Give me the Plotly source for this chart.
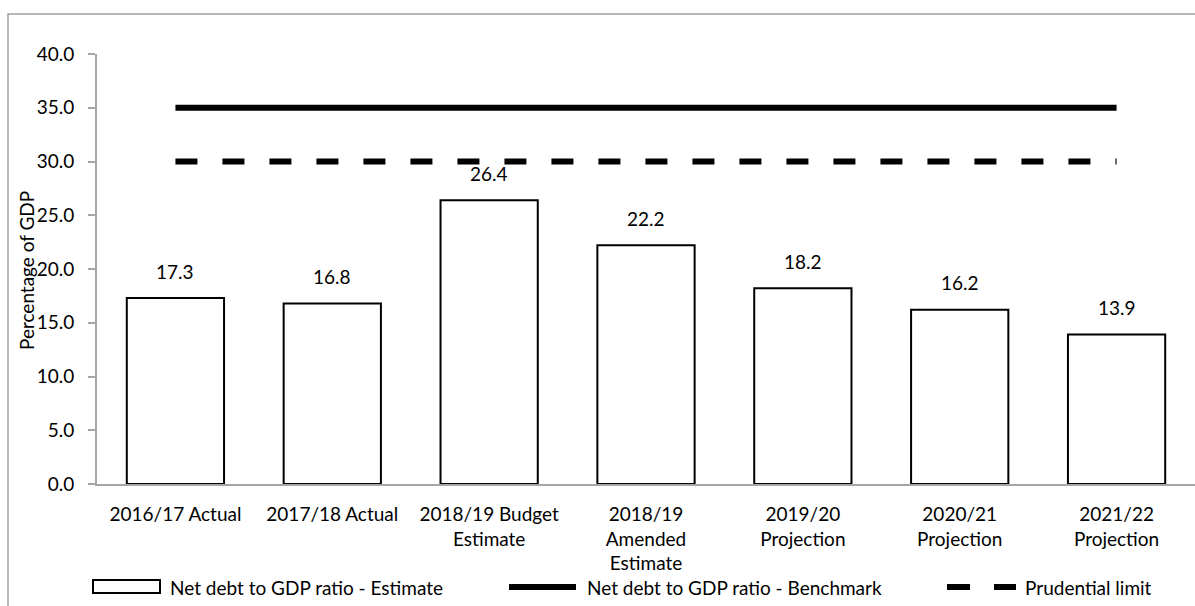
import plotly.graph_objects as go

# Net debt to GDP ratio, percentage of GDP
categories = [
    "2016/17 Actual",
    "2017/18 Actual",
    "2018/19 Budget<br>Estimate",
    "2018/19<br>Amended<br>Estimate",
    "2019/20<br>Projection",
    "2020/21<br>Projection",
    "2021/22<br>Projection",
]
estimate = [17.3, 16.8, 26.4, 22.2, 18.2, 16.2, 13.9]
benchmark = [35.0] * len(categories)
prudential_limit = [30.0] * len(categories)
y_ticks = [0, 5, 10, 15, 20, 25, 30, 35, 40]

FONT = "Lato"
FS = 19
W, H = 1195, 606
L, R, T, B = 97, 0, 54, 122
plot_w = W - L - R
plot_h = H - T - B


def px_x(px):
    return (px - L) / plot_w


def px_y(py):
    return (H - B - py) / plot_h


fig = go.Figure()

fig.add_trace(go.Bar(
    x=categories, y=estimate, width=0.62,
    marker=dict(color="white", line=dict(color="black", width=2)),
    name="Net debt to GDP ratio - Estimate", showlegend=False,
))
fig.add_trace(go.Scatter(
    x=categories, y=benchmark, mode="lines",
    line=dict(color="black", width=6),
    name="Net debt to GDP ratio - Benchmark", showlegend=False,
))
fig.add_trace(go.Scatter(
    x=categories, y=prudential_limit, mode="lines",
    line=dict(color="black", width=6, dash="22px,25px"),
    name="Prudential limit", showlegend=False,
))

# value labels above bars
for c, v in zip(categories, estimate):
    fig.add_annotation(
        x=c, y=v, text=f"{v:.1f}", showarrow=False,
        yanchor="middle", yshift=27,
        font=dict(family=FONT, size=FS, color="black"),
    )

# y-axis title
fig.add_annotation(
    xref="paper", yref="paper", x=px_x(26), y=px_y(271),
    text="Percentage of GDP", textangle=-90, showarrow=False,
    xanchor="center", yanchor="middle",
    font=dict(family=FONT, size=FS, color="black"),
)

shapes = []
# chart area border
shapes.append(dict(
    type="rect", xref="paper", yref="paper",
    x0=px_x(8), x1=px_x(1210), y0=px_y(14), y1=px_y(620),
    line=dict(color="#A0A0A0", width=1.5), fillcolor="rgba(0,0,0,0)",
    layer="below",
))

# legend
leg_y = 587
shapes.append(dict(
    type="rect", xref="paper", yref="paper",
    x0=px_x(93), x1=px_x(160), y0=px_y(580), y1=px_y(593),
    line=dict(color="black", width=2), fillcolor="white",
))
shapes.append(dict(
    type="line", xref="paper", yref="paper",
    x0=px_x(509), x1=px_x(576), y0=px_y(leg_y), y1=px_y(leg_y),
    line=dict(color="black", width=6),
))
for a, b in [(947, 970), (994, 1016)]:
    shapes.append(dict(
        type="line", xref="paper", yref="paper",
        x0=px_x(a), x1=px_x(b), y0=px_y(leg_y), y1=px_y(leg_y),
        line=dict(color="black", width=6),
    ))
for xpx, name in [(168, "Net debt to GDP ratio - Estimate"),
                  (585, "Net debt to GDP ratio - Benchmark"),
                  (1023, "Prudential limit")]:
    fig.add_annotation(
        xref="paper", yref="paper", x=px_x(xpx), y=px_y(leg_y),
        text=name, showarrow=False, xanchor="left", yanchor="middle",
        font=dict(family=FONT, size=FS, color="black"),
    )

fig.update_layout(
    width=W, height=H,
    margin=dict(l=L, r=R, t=T, b=B),
    paper_bgcolor="white", plot_bgcolor="white",
    font=dict(family=FONT, size=FS, color="black"),
    shapes=shapes,
    bargap=0.38,
    xaxis=dict(
        showgrid=False, showline=True, linecolor="#A6A6A6", linewidth=2,
        ticks="", tickfont=dict(family=FONT, size=FS, color="black"),
        ticklabelstandoff=12,
    ),
    yaxis=dict(
        range=[0, 40], tickvals=y_ticks,
        ticktext=[f"{t:.1f}" for t in y_ticks],
        showgrid=False, zeroline=False, showline=True,
        linecolor="#A6A6A6", linewidth=2,
        ticks="outside", ticklen=7, tickcolor="#A6A6A6", tickwidth=2,
        tickfont=dict(family=FONT, size=FS, color="black"),
        ticklabelstandoff=10,
    ),
)

fig.write_html("out.html")
